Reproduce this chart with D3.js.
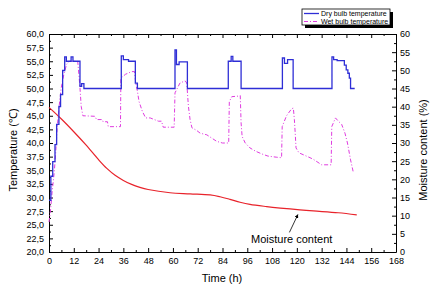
<!DOCTYPE html>
<html>
<head>
<meta charset="utf-8">
<script src="https://cdn.jsdelivr.net/npm/d3@7"></script>
<style>
  body { margin: 0; background: #fff; }
  svg text { font-family: Arial, "Liberation Sans", sans-serif; fill: #000; }
</style>
</head>
<body>
<svg id="chart" width="431" height="302"></svg>
<script>
// time (h) / dry bulb (°C), drawn as a step line
var dryTime = [0, 0.9, 1.8, 2.9, 3.7, 4.8, 5.6, 6.6, 7.6, 8.4, 10.7, 11.6, 15.0, 15.8, 16.9,
  35.0, 36.0, 38.5, 41.8, 42.8, 61.0, 61.7, 63.0, 67.0, 86.8, 88.2, 89.0, 93.0,
  113.0, 114.0, 115.5, 118.2, 137.0, 137.8, 139.5, 143.0, 143.9, 144.7, 145.4, 146.0, 148.0];
var dryTemp = [29.5, 33.9, 36.6, 39.7, 43.4, 46.7, 48.9, 53.3, 55.8, 55.0, 55.8, 55.0, 50.4, 50.9, 50.0,
  56.0, 55.3, 55.0, 51.0, 50.0, 57.1, 54.4, 54.9, 50.0, 55.0, 55.9, 55.0, 50.0,
  55.6, 54.6, 55.3, 50.0, 55.8, 55.3, 55.1, 54.3, 53.4, 52.8, 51.9, 50.0, 50.0];

// time (h) / wet bulb (°C)
var wetTime = [0, 0.7, 1.5, 2.5, 3.2, 4.0, 4.9, 5.9, 7.3, 8.6, 10.0, 13.9, 14.6, 15.0, 15.6, 16.4,
  22.3, 23.0, 25.8, 26.2, 28.3, 28.7, 34.6, 34.8, 37.0, 40.0, 41.4, 42.0, 42.8, 43.6, 45.2, 46.8,
  49.0, 53.0, 54.5, 55.3, 60.6, 61.0, 63.4, 65.9, 66.7, 67.5, 68.3, 69.2, 71.5, 73.2, 76.4, 78.8,
  81.2, 84.0, 87.0, 87.3, 88.5, 91.5, 92.6, 93.0, 93.5, 95.0, 97.3, 100, 103, 106, 110, 112.6,
  112.9, 115.0, 117.5, 118.3, 118.8, 119.2, 119.6, 121.0, 126.4, 128, 132, 136.6,
  136.9, 138.7, 140.1, 141.7, 143.3, 144.5, 146.0, 147.4];
var wetTemp = [25.5, 27.5, 31.0, 34.5, 38.0, 43.0, 46.7, 50.1, 52.8, 54.5, 55.0, 55.0, 52.0, 50.1, 46.7, 45.0,
  44.9, 44.3, 44.3, 43.9, 43.9, 43.0, 43.0, 51.9, 52.6, 53.1, 53.1, 51.0, 49.5, 47.6, 45.8, 44.6,
  44.6, 44.0, 44.0, 42.9, 42.9, 49.2, 51.0, 51.4, 51.0, 46.7, 44.3, 42.8, 42.3, 41.8, 41.5, 40.9,
  40.3, 40.0, 40.0, 47.6, 48.5, 48.6, 48.7, 43.7, 41.2, 40.0, 39.1, 38.5, 38.0, 37.6, 37.4, 37.3,
  43.0, 45.0, 46.3, 46.4, 44.3, 41.8, 39.1, 38.2, 37.3, 37.0, 36.0, 36.0,
  43.0, 44.6, 44.0, 43.4, 41.8, 40.0, 36.9, 34.5];

// time (h) / moisture content (%)
var mcTime = [0, 6, 12, 18, 24, 28, 32, 36, 40, 44, 48, 58.6, 68.3, 78, 82.8, 87.6, 92.5,
  97.3, 105.4, 112, 121.5, 128, 140, 149];
var mcValue = [39.8, 36.6, 33.1, 29.4, 25.4, 23.0, 21.1, 19.7, 18.6, 17.8, 17.2, 16.3, 16.0, 15.7, 15.2, 14.5, 13.7,
  13.1, 12.5, 12.1, 11.6, 11.3, 10.8, 10.2];

var xTicks = d3.range(0, 169, 12);
var yLeftTicks = d3.range(20, 60.01, 2.5);
var yRightTicks = d3.range(0, 61, 5);
var seriesNames = ['Dry bulb temperature', 'Wet bulb temperature'];

var svg = d3.select('#chart');
var padding = { t: 34, r: 35, b: 50, l: 49 };
var W = +svg.attr('width'), H = +svg.attr('height');

var x = d3.scaleLinear().domain([0, 168]).range([padding.l, W - padding.r]);
var yL = d3.scaleLinear().domain([20, 60]).range([H - padding.b, padding.t]);
var yR = d3.scaleLinear().domain([0, 60]).range([H - padding.b, padding.t]);

var blue = '#2e2ed6', magenta = '#e03ce0', red = '#e8232b';

// minor ticks first
function minor(axis, sel) {
  sel.call(axis.tickFormat('')).call(g => g.select('.domain').remove());
}
svg.append('g').attr('transform', 'translate(0,' + yL.range()[0] + ')')
  .call(g => minor(d3.axisBottom(x).tickValues(d3.range(6, 168, 12)).tickSize(-2), g));
svg.append('g').attr('transform', 'translate(0,' + yL.range()[1] + ')')
  .call(g => minor(d3.axisTop(x).tickValues(d3.range(6, 168, 12)).tickSize(-2), g));
svg.append('g').attr('transform', 'translate(' + x.range()[0] + ',0)')
  .call(g => minor(d3.axisLeft(yL).tickValues(d3.range(21.25, 60, 2.5)).tickSize(-2), g));
svg.append('g').attr('transform', 'translate(' + x.range()[1] + ',0)')
  .call(g => minor(d3.axisRight(yR).tickValues(d3.range(2.5, 60, 5)).tickSize(-2), g));

// major axes
var xAxisG = svg.append('g').attr('transform', 'translate(0,' + yL.range()[0] + ')')
  .call(d3.axisBottom(x).tickValues(xTicks).tickSizeInner(-4).tickSizeOuter(0).tickPadding(6));
var xTopG = svg.append('g').attr('transform', 'translate(0,' + yL.range()[1] + ')')
  .call(d3.axisTop(x).tickValues(xTicks).tickSizeInner(-4).tickSizeOuter(0).tickFormat(''));
var yLG = svg.append('g').attr('transform', 'translate(' + x.range()[0] + ',0)')
  .call(d3.axisLeft(yL).tickValues(yLeftTicks).tickSizeInner(-4).tickSizeOuter(0).tickPadding(5)
    .tickFormat(d => d3.format('.1f')(d).replace('.', ',')));
var yRG = svg.append('g').attr('transform', 'translate(' + x.range()[1] + ',0)')
  .call(d3.axisRight(yR).tickValues(yRightTicks).tickSizeInner(-4).tickSizeOuter(0).tickPadding(4));

svg.selectAll('.tick text').style('font-size', '9px');
svg.selectAll('.domain, .tick line').attr('stroke', '#000').attr('stroke-width', 1);

// lines
var dryData = dryTime.map((t, i) => [t, dryTemp[i]]);
var wetData = wetTime.map((t, i) => [t, wetTemp[i]]);
var mcData = mcTime.map((t, i) => [t, mcValue[i]]);

svg.append('path').datum(mcData)
  .attr('fill', 'none').attr('stroke', red).attr('stroke-width', 1.2)
  .attr('d', d3.line().x(d => x(d[0])).y(d => yR(d[1])).curve(d3.curveCatmullRom.alpha(0.5)));

svg.append('path').datum(wetData)
  .attr('fill', 'none').attr('stroke', magenta).attr('stroke-width', 1)
  .attr('stroke-dasharray', '4,2,1,2')
  .attr('d', d3.line().x(d => x(d[0])).y(d => yL(d[1])));

svg.append('path').datum(dryData)
  .attr('fill', 'none').attr('stroke', blue).attr('stroke-width', 1.3)
  .attr('d', d3.line().x(d => x(d[0])).y(d => yL(d[1])).curve(d3.curveStepAfter));

// axis titles
svg.append('text')
  .attr('transform', 'translate(13,150) rotate(-90)')
  .attr('text-anchor', 'middle').attr('dominant-baseline', 'central')
  .style('font-size', '11px').text('Temperature (\u2103)');
svg.append('text')
  .attr('transform', 'translate(423,150) rotate(-90)')
  .attr('text-anchor', 'middle').attr('dominant-baseline', 'central')
  .style('font-size', '11px').text('Moisture content (%)');
svg.append('text')
  .attr('x', 222).attr('y', 282)
  .attr('text-anchor', 'middle')
  .style('font-size', '11px').text('Time (h)');

// annotation
svg.append('defs').append('marker')
  .attr('id', 'arrow').attr('viewBox', '0 0 10 10').attr('refX', 9).attr('refY', 5)
  .attr('markerWidth', 5).attr('markerHeight', 5).attr('orient', 'auto')
  .append('path').attr('d', 'M0,0 L10,5 L0,10 Z').attr('fill', '#000');
svg.append('line')
  .attr('x1', x(116.4)).attr('y1', yR(5.4))
  .attr('x2', x(120.5)).attr('y2', yR(10.3))
  .attr('stroke', '#000').attr('stroke-width', 0.8)
  .attr('marker-end', 'url(#arrow)');
svg.append('text')
  .attr('x', x(117.5)).attr('y', yR(2.5))
  .attr('text-anchor', 'middle')
  .style('font-size', '11px').text('Moisture content');

// legend
var legend = svg.append('g').attr('transform', 'translate(302,9)');
legend.append('rect').attr('x', 3).attr('y', 3).attr('width', 88).attr('height', 16).attr('fill', '#000');
legend.append('rect').attr('width', 88).attr('height', 16).attr('fill', '#fff')
  .attr('stroke', '#000').attr('stroke-width', 0.8);
var rows = legend.selectAll('.row').data(seriesNames).enter().append('g')
  .attr('class', 'row')
  .attr('transform', (d, i) => 'translate(0,' + (4.5 + i * 8) + ')');
rows.append('line').attr('x1', 2).attr('x2', 17).attr('y1', 0).attr('y2', 0)
  .attr('stroke', (d, i) => i === 0 ? blue : magenta)
  .attr('stroke-width', (d, i) => i === 0 ? 1.3 : 1)
  .attr('stroke-dasharray', (d, i) => i === 0 ? null : '4,2,1,2');
rows.append('text').attr('x', 19).attr('y', 0).attr('dominant-baseline', 'central')
  .style('font-size', '7px').text(d => d);
</script>
</body>
</html>
